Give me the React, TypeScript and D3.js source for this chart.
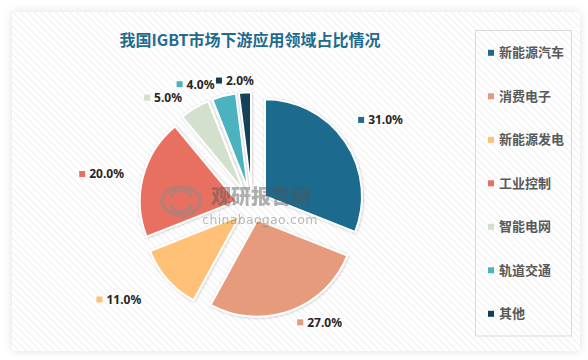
import React from "react";
import * as d3 from "d3";

const categories = ["新能源汽车", "消费电子", "新能源发电", "工业控制", "智能电网", "轨道交通", "其他"];
const values = [31, 27, 11, 20, 5, 4, 2];
const colors = ["#1F6B8E", "#E59B7B", "#FFC177", "#E87060", "#D3E0CE", "#4BB3C0", "#133F55"];
const title = "我国IGBT市场下游应用领域占比情况";

const W = 588, H = 360;
const cx = 252, cy = 205, R = 97, explode = 15.7;

export default function App() {
  const pie = d3.pie<number>().sort(null).value((d) => d).startAngle(0).endAngle(2 * Math.PI);
  const arcs = pie(values);
  const arc = d3.arc<d3.PieArcDatum<number>>().innerRadius(0).outerRadius(R);
  const total = d3.sum(values);
  const legendY = d3.scalePoint<string>().domain(categories).range([52.3, 313.3]);

  return (
    <svg width={W} height={H} style={{ position: "absolute", left: 0, top: 0 }}>
      <defs>
        <pattern id="hatch" width="5" height="5" patternUnits="userSpaceOnUse" patternTransform="rotate(-45)">
          <rect width="5" height="5" fill="#ffffff" />
          <line x1="0" y1="0" x2="0" y2="5" stroke="#ececec" strokeWidth="1.6" />
        </pattern>
        <filter id="panelShadow" x="-10%" y="-10%" width="120%" height="120%">
          <feDropShadow dx="0" dy="0" stdDeviation="5" floodColor="#000" floodOpacity="0.12" />
        </filter>
        <filter id="sliceShadow" x="-20%" y="-20%" width="140%" height="140%">
          <feDropShadow dx="0.5" dy="0.5" stdDeviation="1.2" floodColor="#000" floodOpacity="0.25" />
        </filter>
      </defs>
      <rect x={0} y={0} width={W} height={H} fill="#ffffff" />
      <rect x={12} y={12} width={568} height={339} fill="url(#hatch)" filter="url(#panelShadow)" />
      <rect x={12} y={12} width={568} height={339} fill="url(#hatch)" />

      <text x={250} y={46} textAnchor="middle" fontFamily="'Noto Sans CJK SC', sans-serif" fontWeight="bold" fontSize={16} fill="#1F6B8E">
        {title}
      </text>

      <g>
        {arcs.map((a, i) => {
          const mid = (a.startAngle + a.endAngle) / 2;
          const ox = Math.sin(mid) * explode, oy = -Math.cos(mid) * explode;
          return (
            <path key={i} d={arc(a) || ""} transform={`translate(${cx + ox},${cy + oy})`} fill={colors[i]} stroke="#ffffff" strokeWidth={2} strokeLinejoin="miter" filter="url(#sliceShadow)" />
          );
        })}
      </g>

      {/* watermark */}
      <g opacity={0.45}>
        <g transform="translate(181,201)" fill="none" stroke="#8a8a8a" strokeWidth={4}>
          <ellipse rx={19} ry={14} />
          <path d="M -10 -3 A 10 8 0 0 1 10 -3" />
          <path d="M 10 3 A 10 8 0 0 1 -10 3" />
        </g>
        <text x={261} y={204} textAnchor="middle" fontFamily="'Noto Sans CJK SC', sans-serif" fontWeight="900" fontSize={20} fill="#555">观研报告网</text>
        <text x={260} y={224} textAnchor="middle" fontFamily="'DejaVu Sans', sans-serif" fontSize={12.5} fill="#666" letterSpacing={0.3}>chinabaogao.com</text>
      </g>

      {arcs.map((a, i) => {
        const mid = (a.startAngle + a.endAngle) / 2;
        const s = Math.sin(mid), c = -Math.cos(mid);
        const vx = cx + s * explode, vy = cy + c * explode;
        const ax = vx + s * (R + 12), ay = vy + c * (R + 12);
        const label = `${((values[i] / total) * 100).toFixed(1)}%`;
        const boxW = 10 + label.length * 7.6;
        let left: number;
        if (Math.abs(s) < 0.1) left = ax - boxW / 2 - 8;
        else if (s > 0) left = ax + 3;
        else left = ax - boxW - 4;
        let y = ay;
        if (i === 0) y = ay - 15;
        if (i === 2) y = ay + 12;
        if (i === 2) left -= 10;
        return (
          <g key={i}>
            <rect x={left} y={y - 3} width={6} height={6} fill={colors[i]} />
            <text x={left + 10} y={y + 4.5} fontFamily="'Noto Sans', 'DejaVu Sans', sans-serif" fontWeight="bold" fontSize={12} fill="#262626">
              {label}
            </text>
          </g>
        );
      })}

      <rect x={475.5} y={30.5} width={96} height={305.5} fill="none" stroke="#d9d9d9" strokeWidth={1} />
      {categories.map((c, i) => (
        <g key={c}>
          <rect x={488} y={legendY(c)! - 2.5} width={6} height={6} fill={colors[i]} />
          <text x={499} y={legendY(c)! + 5} fontFamily="'Noto Sans CJK SC', sans-serif" fontWeight="bold" fontSize={13} fill="#595959">
            {c}
          </text>
        </g>
      ))}
    </svg>
  );
}
